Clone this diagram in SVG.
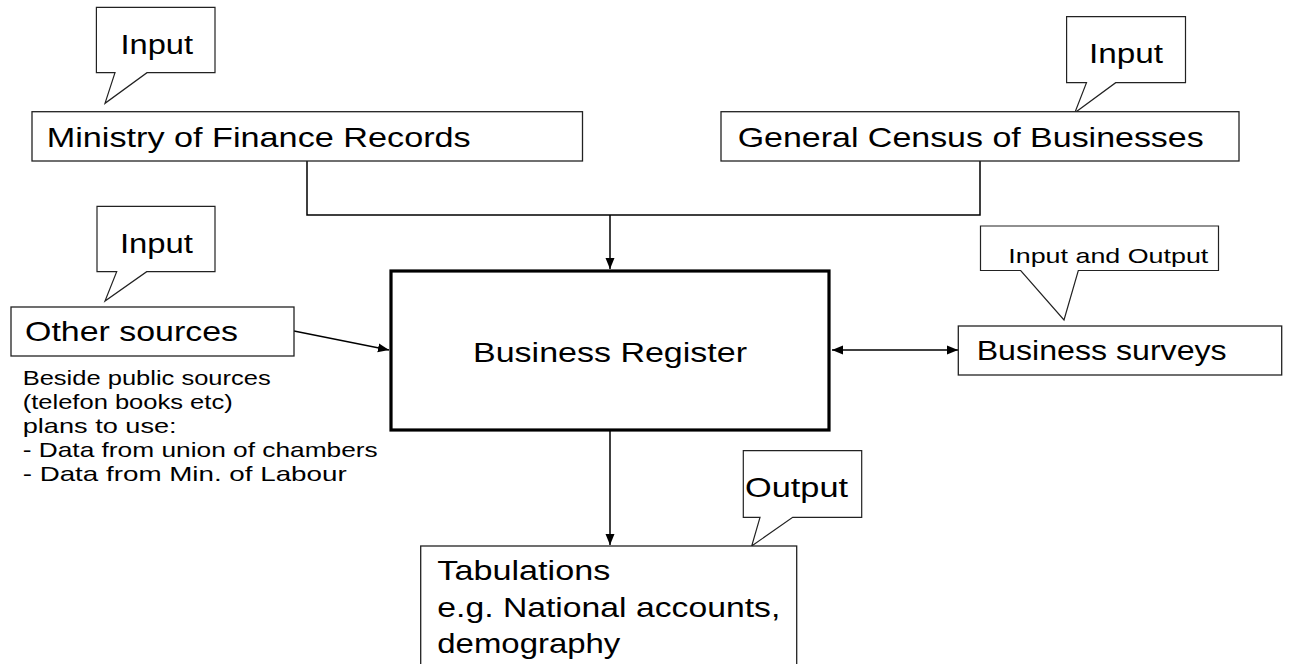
<svg xmlns="http://www.w3.org/2000/svg" width="1291" height="664" viewBox="0 0 1291 664">
  <style>
    .box { fill: #ffffff; stroke: #222222; stroke-width: 1.3; }
    .main { fill: #ffffff; stroke: #000000; stroke-width: 3.2; }
    .callout { fill: #ffffff; stroke: #222222; stroke-width: 1.2; stroke-linejoin: miter; }
    .t { font-family: "Liberation Sans", Arial, sans-serif; font-size: 27.5px; fill: #000000; }
    .s { font-family: "Liberation Sans", Arial, sans-serif; font-size: 21px; fill: #000000; }
    .c { fill: none; stroke: #000000; stroke-width: 1.5; }
  </style>
  <defs>
    <marker id="ah" markerUnits="userSpaceOnUse" markerWidth="12" markerHeight="10" refX="11" refY="5" orient="auto-start-reverse">
      <path d="M0,0.5 L11,5 L0,9.5 Z" fill="#000000"/>
    </marker>
  </defs>

  <g id="connectors">
    <polyline class="c" points="307,161 307,215 980,215 980,161"/>
    <line class="c" x1="610" y1="215" x2="610" y2="269" marker-end="url(#ah)"/>
    <line class="c" x1="294" y1="331" x2="389" y2="350" marker-end="url(#ah)"/>
    <line class="c" x1="832" y1="350" x2="958" y2="350" marker-start="url(#ah)" marker-end="url(#ah)"/>
    <line class="c" x1="610" y1="431" x2="610" y2="545" marker-end="url(#ah)"/>
  </g>

  <g id="callout-input-1">
    <path class="callout" d="M96.4,7.3 H215 V72.7 H147 L105,103.3 L115,72.7 H96.4 Z"/>
    <text class="t" x="120.5" y="54" textLength="72.5" lengthAdjust="spacingAndGlyphs">Input</text>
  </g>

  <g id="ministry">
    <rect class="box" x="32" y="111.7" width="550.5" height="49.3"/>
    <text class="t" x="46.7" y="146.7" textLength="424" lengthAdjust="spacingAndGlyphs">Ministry of Finance Records</text>
  </g>

  <g id="callout-input-2">
    <path class="callout" d="M1066.6,16.7 H1185.5 V82.7 H1115.7 L1074.8,112.7 L1086.5,82.7 H1066.6 Z"/>
    <text class="t" x="1089" y="63.3" textLength="74" lengthAdjust="spacingAndGlyphs">Input</text>
  </g>

  <g id="census">
    <rect class="box" x="721" y="111.7" width="518" height="49.3"/>
    <text class="t" x="737.7" y="146.7" textLength="466" lengthAdjust="spacingAndGlyphs">General Census of Businesses</text>
  </g>

  <g id="callout-input-3">
    <path class="callout" d="M97,206.3 H215 V271.7 H146.7 L105,301 L116.7,271.7 H97 Z"/>
    <text class="t" x="120" y="253" textLength="73" lengthAdjust="spacingAndGlyphs">Input</text>
  </g>

  <g id="other-sources">
    <rect class="box" x="11" y="307" width="283" height="49"/>
    <text class="t" x="25" y="340.7" textLength="213" lengthAdjust="spacingAndGlyphs">Other sources</text>
  </g>

  <g id="other-sources-note">
    <text class="s" x="22.7" y="385" textLength="248" lengthAdjust="spacingAndGlyphs">Beside public sources</text>
    <text class="s" x="22.7" y="409" textLength="210" lengthAdjust="spacingAndGlyphs">(telefon books etc)</text>
    <text class="s" x="22.7" y="433" textLength="154" lengthAdjust="spacingAndGlyphs">plans to use:</text>
    <text class="s" x="22.7" y="457" textLength="355" lengthAdjust="spacingAndGlyphs">- Data from union of chambers</text>
    <text class="s" x="22.7" y="481" textLength="324" lengthAdjust="spacingAndGlyphs">- Data from Min. of Labour</text>
  </g>

  <g id="business-register">
    <rect class="main" x="391" y="271" width="438" height="159"/>
    <text class="t" x="473" y="361.7" textLength="274" lengthAdjust="spacingAndGlyphs">Business Register</text>
  </g>

  <g id="callout-input-output">
    <path class="callout" d="M980.5,226 H1218.5 V270.5 H1078.3 L1064,320 L1020.7,270.5 H980.5 Z"/>
    <text class="s" x="1008.3" y="262.7" textLength="200" lengthAdjust="spacingAndGlyphs">Input and Output</text>
  </g>

  <g id="business-surveys">
    <rect class="box" x="958.3" y="326" width="323.4" height="49"/>
    <text class="t" x="976.7" y="360" textLength="250" lengthAdjust="spacingAndGlyphs">Business surveys</text>
  </g>

  <g id="callout-output">
    <path class="callout" d="M743.3,450.7 H861.7 V517.3 H792.7 L751.7,546 L760,517.3 H743.3 Z"/>
    <text class="t" x="745" y="496.7" textLength="103" lengthAdjust="spacingAndGlyphs">Output</text>
  </g>

  <g id="tabulations">
    <rect class="box" x="420.7" y="546" width="376" height="124"/>
    <text class="t" x="437.3" y="580" textLength="173" lengthAdjust="spacingAndGlyphs">Tabulations</text>
    <text class="t" x="437.3" y="616.7" textLength="343" lengthAdjust="spacingAndGlyphs">e.g. National accounts,</text>
    <text class="t" x="437.3" y="653" textLength="183" lengthAdjust="spacingAndGlyphs">demography</text>
  </g>
</svg>
